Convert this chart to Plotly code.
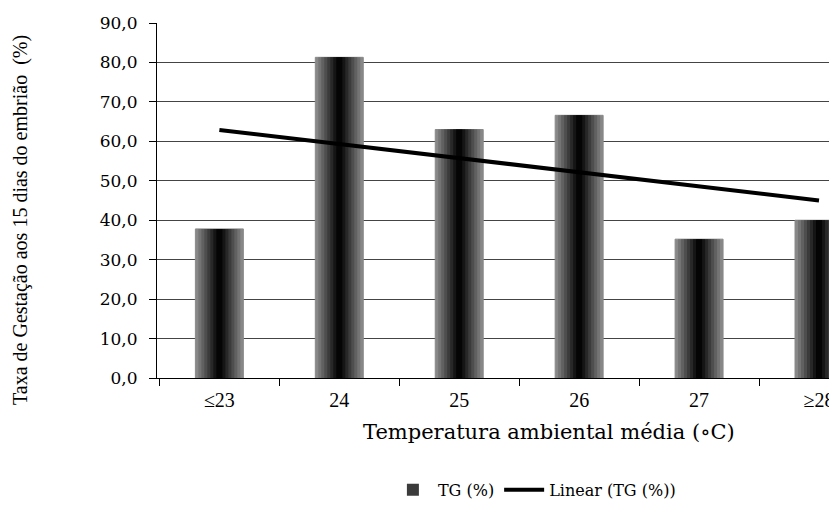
import plotly.graph_objects as go

categories = ["≤23", "24", "25", "26", "27", "≥28"]
tg_values = [37.8, 81.3, 63.0, 66.6, 35.2, 40.0]
trend_categories = ["≤23", "≥28"]
trend_values = [62.9, 45.0]
y_tick_values = [0, 10, 20, 30, 40, 50, 60, 70, 80, 90]
y_tick_labels = ["0,0", "10,0", "20,0", "30,0", "40,0", "50,0", "60,0", "70,0", "80,0", "90,0"]

# shading steps used to imitate the gradient fill of the bars (outer -> inner)
shade_widths = [0.4, 0.35, 0.30, 0.25, 0.20, 0.15, 0.10, 0.05]
shade_colors = ["#878787", "#747474", "#616161", "#4e4e4e", "#3b3b3b", "#282828", "#151515", "#050505"]

fig = go.Figure()
for i, (w, c) in enumerate(zip(shade_widths, shade_colors)):
    fig.add_trace(go.Bar(
        x=categories, y=tg_values, name="TG (%)", width=w,
        legendgroup="tg", showlegend=(i == 4),
        marker=dict(color=c, line=dict(color="#8a8a8a" if i == 0 else c, width=1 if i == 0 else 0)),
        hoverinfo="skip" if i else None,
    ))
fig.add_trace(go.Scatter(
    x=trend_categories, y=trend_values, name="Linear (TG (%))", mode="lines",
    line=dict(color="black", width=4),
))

fig.update_layout(
    width=829, height=515,
    barmode="overlay",
    margin=dict(l=149, r=0, t=15, b=145, autoexpand=False),
    plot_bgcolor="white", paper_bgcolor="white",
    font=dict(family="Liberation Serif", color="black"),
    showlegend=True,
    legend=dict(orientation="h", x=0.555, y=-0.315, xanchor="center", yanchor="middle",
                font=dict(family="DejaVu Serif", size=16), itemwidth=40,
                traceorder="normal"),
    xaxis=dict(range=[-0.52, 5.15], showline=True, linecolor="black", linewidth=1,
               ticks="outside", tickson="boundaries", ticklen=7, tickcolor="black",
               tickfont=dict(family="Liberation Serif", size=20), ticklabelstandoff=4,
               showgrid=False),
    yaxis=dict(range=[0, 90], tickvals=y_tick_values, ticktext=y_tick_labels,
               showline=True, linecolor="black", linewidth=1,
               ticks="outside", ticklen=7, tickcolor="black",
               tickfont=dict(family="DejaVu Serif", size=17), ticklabelstandoff=8,
               showgrid=True, gridcolor="#444444", gridwidth=1, zeroline=False),
    annotations=[
        dict(text="Taxa de Gestação aos 15 dias do embrião  (%)", textangle=-90,
             xref="paper", yref="paper", x=-0.2015, y=0.445, showarrow=False,
             xanchor="center", yanchor="middle",
             font=dict(family="Liberation Serif", size=20)),
        dict(text="Temperatura ambiental média (∘C)",
             xref="paper", yref="paper", x=0.576, y=-0.152, showarrow=False,
             xanchor="center", yanchor="middle",
             font=dict(family="DejaVu Serif", size=21)),
    ],
)

fig.write_html("out.html")
